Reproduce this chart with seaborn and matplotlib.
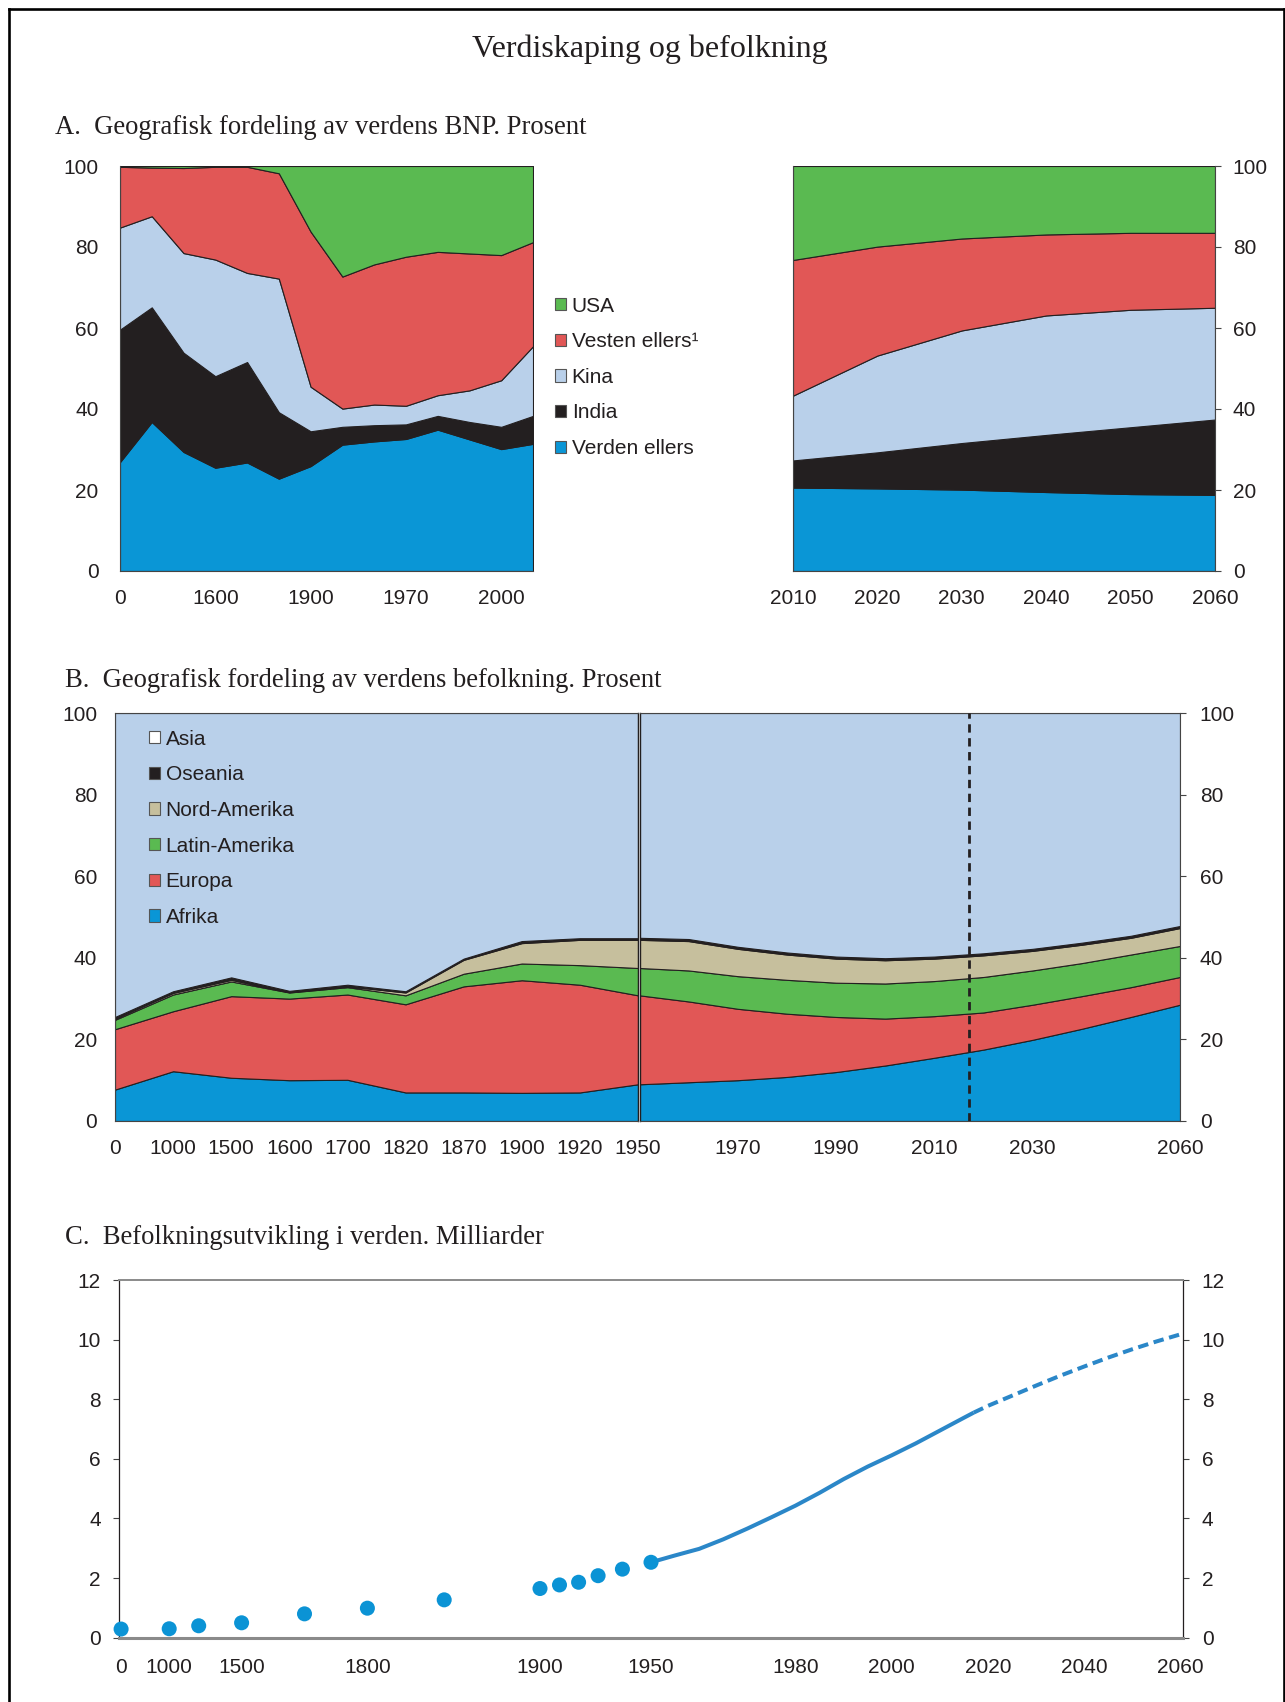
import numpy as np
import pandas as pd
import matplotlib
matplotlib.use("Agg")
import matplotlib.pyplot as plt
import seaborn as sns
from matplotlib.patches import Patch
from matplotlib.lines import Line2D

# ------------------------------------------------------------------ data
# Panel A (left): historical GDP shares, per cent
bnp_hist_ticklabels = ['0', '', '', '1600', '', '', '1900', '', '', '1970', '', '', '2000', '']
bnp_hist_verden = [26.9, 36.8, 29.4, 25.5, 26.8, 22.8, 25.9, 31.2, 32.0, 32.6, 34.9, 32.5, 30.1, 31.4]
bnp_hist_india = [32.7, 28.3, 24.5, 22.6, 24.8, 16.4, 8.6, 4.4, 4.0, 3.6, 3.4, 4.3, 5.5, 6.9]
bnp_hist_kina = [25.2, 22.5, 24.6, 28.8, 22.0, 33.0, 11.0, 4.5, 5.1, 4.6, 5.1, 7.8, 11.5, 17.2]
bnp_hist_vesten = [15.0, 12.0, 21.0, 22.9, 26.2, 26.0, 38.3, 32.6, 34.6, 36.8, 35.4, 33.8, 30.9, 25.7]
bnp_hist_usa = [0.2, 0.4, 0.5, 0.2, 0.2, 1.8, 16.2, 27.3, 24.3, 22.4, 21.2, 21.6, 22.0, 18.8]

# Panel A (right): projected GDP shares
bnp_proj_years = [2010, 2020, 2030, 2040, 2050, 2060]
bnp_proj_verden = [20.6, 20.4, 20.1, 19.5, 19.0, 18.8]
bnp_proj_india = [6.7, 8.9, 11.5, 14.1, 16.5, 18.6]
bnp_proj_kina = [16.0, 23.9, 27.8, 29.5, 29.0, 27.6]
bnp_proj_vesten = [33.5, 26.9, 22.7, 20.0, 19.0, 18.5]
bnp_proj_usa = [23.2, 19.9, 17.9, 16.9, 16.5, 16.5]

bnp_labels = ['USA', 'Vesten ellers\u00b9', 'Kina', 'India', 'Verden ellers']

# Panel B (left): historical population shares
bef_hist_periods = ['0', '1000', '1500', '1600', '1700', '1820', '1870', '1900', '1920', '1950']
bef_hist_afrika = [7.7, 12.2, 10.6, 10.0, 10.1, 7.0, 7.0, 6.9, 7.0, 9.0]
bef_hist_europa = [14.8, 14.7, 20.0, 20.0, 20.9, 21.6, 26.0, 27.6, 26.4, 21.8]
bef_hist_latin = [2.3, 4.1, 3.6, 1.5, 1.8, 2.2, 3.1, 4.1, 4.8, 6.7]
bef_hist_nordam = [0.3, 0.4, 0.4, 0.1, 0.2, 0.7, 3.4, 5.0, 6.2, 6.9]
bef_hist_oseania = [0.4, 0.4, 0.6, 0.3, 0.4, 0.3, 0.3, 0.5, 0.4, 0.4]
bef_hist_asia = [74.5, 68.2, 64.8, 68.1, 66.6, 68.2, 60.2, 55.9, 55.2, 55.2]

# Panel B (right): population shares 1950-2060
bef_years = [1950, 1960, 1970, 1980, 1990, 2000, 2010, 2020, 2030, 2040, 2050, 2060]
bef_afrika = [9.0, 9.5, 10.0, 10.8, 12.0, 13.6, 15.5, 17.5, 19.9, 22.6, 25.5, 28.5]
bef_europa = [21.8, 19.8, 17.5, 15.5, 13.5, 11.5, 10.2, 9.1, 8.6, 8.0, 7.3, 6.8]
bef_latin = [6.7, 7.6, 8.0, 8.3, 8.4, 8.6, 8.6, 8.7, 8.4, 8.1, 8.0, 7.6]
bef_nordam = [6.9, 7.2, 6.7, 6.2, 5.9, 5.7, 5.5, 5.3, 4.8, 4.5, 4.1, 4.4]
bef_oseania = [0.5, 0.5, 0.5, 0.5, 0.5, 0.5, 0.5, 0.5, 0.5, 0.5, 0.5, 0.5]
bef_asia = [55.1, 55.4, 57.3, 58.7, 59.7, 60.1, 59.7, 58.9, 57.8, 56.3, 54.6, 52.2]
bef_proj_start = 2017
bef_right_ticks = [1950, 1970, 1990, 2010, 2030, 2060]
bef_right_ticklabels = ['', '1970', '1990', '2010', '2030', '2060']

bef_labels = ['Asia', 'Oseania', 'Nord-Amerika', 'Latin-Amerika', 'Europa', 'Afrika']

# Panel C: world population, billions
pop_hist_years = [0, 1000, 1250, 1500, 1750, 1800, 1850, 1900, 1910, 1920, 1930, 1940, 1950]
pop_hist = [0.29, 0.30, 0.40, 0.50, 0.80, 0.99, 1.27, 1.65, 1.77, 1.86, 2.08, 2.30, 2.53]
pop_years = [1950, 1955, 1960, 1965, 1970, 1975, 1980, 1985, 1990, 1995, 2000, 2005, 2010, 2015, 2017]
pop_values = [2.53, 2.76, 2.98, 3.30, 3.66, 4.04, 4.43, 4.86, 5.32, 5.74, 6.12, 6.52, 6.95, 7.38, 7.55]
proj_years = [2017, 2020, 2025, 2030, 2035, 2040, 2045, 2050, 2055, 2060]
proj_values = [7.55, 7.78, 8.12, 8.46, 8.79, 9.10, 9.40, 9.68, 9.94, 10.18]
pop_tick_years = [0, 1000, 1500, 1800, 1900, 1950, 1980, 2000, 2020, 2040, 2060]

# ------------------------------------------------------------------ style
sns.set_theme(style="white")
plt.rcParams['font.family'] = ['Liberation Sans', 'DejaVu Sans']
plt.rcParams['axes.linewidth'] = 0.8

TXT = '#231f20'
BLUE = '#0a96d6'
BLACK = '#231f20'
LBLUE = '#b9d0ea'
RED = '#e15756'
GREEN = '#5aba51'
BEIGE = '#c6bf9d'
EDGE = '#231f20'
FS = 15
SUB_FS = 19.2

W, H = 1285, 1702
fig = plt.figure(figsize=(W / 100, H / 100), dpi=100)
fig.patch.set_facecolor('white')


def rect(x0, y0, x1, y1):
    return [x0 / W, 1 - y1 / H, (x1 - x0) / W, (y1 - y0) / H]


def style_ticks(ax, pad_x=8.5, pad_y=9):
    ax.tick_params(axis='both', which='both', direction='out', length=4.3, width=0.8,
                   colors='#444444', labelcolor=TXT, labelsize=FS)
    ax.tick_params(axis='x', pad=pad_x)
    ax.tick_params(axis='y', pad=pad_y)
    for s in ax.spines.values():
        s.set_color('#444444')
        s.set_linewidth(0.8)


# ------------------------------------------------------------------ frame & titles
for xs, ys in [([9 / W, 9 / W], [0, 1 - 8.5 / H]),
               ([9 / W, 1283.5 / W], [1 - 8.5 / H, 1 - 8.5 / H]),
               ([1283.5 / W, 1283.5 / W], [1 - 8.5 / H, 0])]:
    fig.add_artist(Line2D(xs, ys, color='black', lw=1.9, solid_capstyle='projecting'))

serif = ['Liberation Serif', 'DejaVu Serif']
fig.text(650 / W, 1 - 57 / H, 'Verdiskaping og befolkning', family=serif, fontsize=23,
         color=TXT, ha='center', va='baseline')
fig.text(55 / W, 1 - 134 / H, 'A.  Geografisk fordeling av verdens BNP. Prosent', family=serif,
         fontsize=SUB_FS, color=TXT, ha='left', va='baseline')
fig.text(65 / W, 1 - 687 / H, 'B.  Geografisk fordeling av verdens befolkning. Prosent', family=serif,
         fontsize=SUB_FS, color=TXT, ha='left', va='baseline')
fig.text(65 / W, 1 - 1244 / H, 'C.  Befolkningsutvikling i verden. Milliarder', family=serif,
         fontsize=SUB_FS, color=TXT, ha='left', va='baseline')

# ------------------------------------------------------------------ panel A left
axA1 = fig.add_axes(rect(120, 166, 533, 571))
xa = np.arange(len(bnp_hist_verden))
axA1.stackplot(xa, bnp_hist_verden, bnp_hist_india, bnp_hist_kina, bnp_hist_vesten, bnp_hist_usa,
               colors=[BLUE, BLACK, LBLUE, RED, GREEN], edgecolor=EDGE, linewidth=0.8)
axA1.set_xlim(0, len(xa) - 1)
axA1.set_ylim(0, 100)
axA1.set_xticks(xa)
axA1.set_xticklabels(bnp_hist_ticklabels)
axA1.set_yticks(range(0, 101, 20))
style_ticks(axA1, pad_x=8.5, pad_y=11)
axA1.spines['top'].set_visible(False)
axA1.spines['right'].set_visible(False)

# ------------------------------------------------------------------ panel A right
axA2 = fig.add_axes(rect(793, 166, 1215, 571))
axA2.stackplot(bnp_proj_years, bnp_proj_verden, bnp_proj_india, bnp_proj_kina, bnp_proj_vesten,
               bnp_proj_usa, colors=[BLUE, BLACK, LBLUE, RED, GREEN], edgecolor=EDGE, linewidth=0.8)
axA2.set_xlim(2010, 2060)
axA2.set_ylim(0, 100)
axA2.set_xticks(bnp_proj_years)
axA2.set_yticks(range(0, 101, 20))
axA2.yaxis.tick_right()
style_ticks(axA2, pad_x=8.5, pad_y=8.5)
axA2.spines['top'].set_visible(False)

legA = [Patch(facecolor=c, edgecolor='#555555', linewidth=0.8)
        for c in [GREEN, RED, LBLUE, BLACK, BLUE]]
fig.legend(legA, bnp_labels, loc='upper left', bbox_to_anchor=(555 / W, 1 - 296.5 / H),
           frameon=False, fontsize=FS, handlelength=0.55, handleheight=0.55,
           handletextpad=0.25, labelspacing=0.8, borderpad=0, borderaxespad=0,
           labelcolor=TXT)

# ------------------------------------------------------------------ panel B left
axB1 = fig.add_axes(rect(115, 713, 638, 1121))
xb = np.arange(len(bef_hist_periods))
axB1.stackplot(xb, bef_hist_afrika, bef_hist_europa, bef_hist_latin, bef_hist_nordam,
               bef_hist_oseania, bef_hist_asia,
               colors=[BLUE, RED, GREEN, BEIGE, BLACK, LBLUE], edgecolor=EDGE, linewidth=0.8)
axB1.set_xlim(0, len(xb) - 1)
axB1.set_ylim(0, 100)
axB1.set_xticks(xb)
axB1.set_xticklabels(bef_hist_periods)
axB1.set_yticks(range(0, 101, 20))
style_ticks(axB1, pad_x=8.5, pad_y=8.5)
axB1.spines['right'].set_color('#231f20')
axB1.spines['right'].set_linewidth(1.0)

# ------------------------------------------------------------------ panel B right
axB2 = fig.add_axes(rect(639.5, 713, 1180, 1121))
axB2.stackplot(bef_years, bef_afrika, bef_europa, bef_latin, bef_nordam, bef_oseania, bef_asia,
               colors=[BLUE, RED, GREEN, BEIGE, BLACK, LBLUE], edgecolor=EDGE, linewidth=0.8)
axB2.set_xlim(1950, 2060)
axB2.set_ylim(0, 100)
axB2.set_xticks(bef_right_ticks)
axB2.set_xticklabels(bef_right_ticklabels)
axB2.set_yticks(range(0, 101, 20))
axB2.yaxis.tick_right()
style_ticks(axB2, pad_x=8.5, pad_y=10)
axB2.spines['left'].set_color('#231f20')
axB2.spines['left'].set_linewidth(1.0)
axB2.axvline(bef_proj_start, color=BLACK, lw=2.0, linestyle=(0, (3, 2)), zorder=5)

legB = [Patch(facecolor=c, edgecolor='#555555', linewidth=0.8)
        for c in ['white', BLACK, BEIGE, GREEN, RED, BLUE]]
axB1.legend(legB, bef_labels, loc='upper left',
            bbox_to_anchor=((149 - 115) / 523, 1 - (729.5 - 713) / 408),
            frameon=False, fontsize=FS, handlelength=0.55, handleheight=0.55,
            handletextpad=0.25, labelspacing=0.8, borderpad=0, borderaxespad=0,
            labelcolor=TXT)

# ------------------------------------------------------------------ panel C
axC = fig.add_axes(rect(119.4, 1280, 1183.4, 1637.7))
# axis layout: piecewise-linear position of years along the axis (pixels from left edge)
knot_years = np.array([-1000, 0, 1000, 1250, 1500, 1750, 1800, 1850, 1900, 1910, 1920, 1930,
                       1940, 1950, 2060, 3000], dtype=float)
knot_pos = np.array([-46.4, 1.7, 49.8, 79.3, 122.2, 185.1, 248.0, 324.8, 420.6, 440.1, 459.2,
                     478.7, 503.0, 531.6, 1061.3, 5587.4])


def fwd(x):
    return np.interp(x, knot_years, knot_pos)


def inv(p):
    return np.interp(p, knot_pos, knot_years)


axC.set_xscale('function', functions=(fwd, inv))
axC.set_xlim(inv(0.0), inv(1064.0))
axC.set_ylim(0, 12)

sns.lineplot(x=pop_years, y=pop_values, ax=axC, color='#2b87c8', linewidth=2.9,
             estimator=None, sort=False, solid_capstyle='butt')
sns.lineplot(x=proj_years, y=proj_values, ax=axC, color='#2b87c8', linewidth=2.9,
             estimator=None, sort=False, linestyle=(0, (2.6, 1.4)), dash_capstyle='butt')
sns.scatterplot(x=pop_hist_years, y=pop_hist, ax=axC, s=117, color='#0b93d5',
                edgecolor='none', zorder=4, clip_on=False)

axC.set_xticks(pop_tick_years)
axC.set_xticklabels([str(y) for y in pop_tick_years])
axC.set_xticks(inv(np.arange(12) * 96.3), minor=True)
axC.set_yticks(range(0, 13, 2))
axC.tick_params(axis='x', which='major', length=0, pad=14.5, labelsize=FS, labelcolor=TXT)
axC.tick_params(axis='x', which='minor', direction='out', length=4.3, width=0.9, colors='#444444')
axC.tick_params(axis='y', which='both', direction='out', length=4.3, width=0.8,
                colors='#444444', labelcolor=TXT, labelsize=FS, pad=9,
                left=True, right=True, labelleft=True, labelright=True)
axC.spines['bottom'].set_color('#8a8a8a')
axC.spines['bottom'].set_linewidth(2.2)
axC.spines['top'].set_color('#8a8a8a')
axC.spines['top'].set_linewidth(1.4)
for s in ['left', 'right']:
    axC.spines[s].set_color('#231f20')
    axC.spines[s].set_linewidth(0.9)
axC.set_xlabel('')
axC.set_ylabel('')

fig.savefig('out.png', dpi=100, facecolor='white')
